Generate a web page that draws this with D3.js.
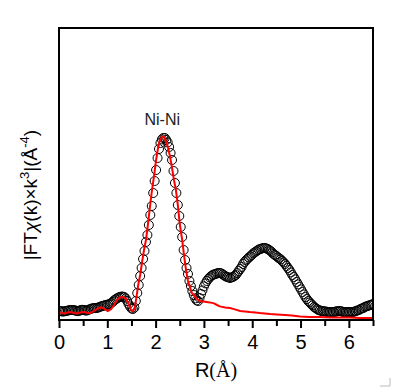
<!DOCTYPE html>
<html>
<head>
<meta charset="utf-8">
<script src="https://cdn.jsdelivr.net/npm/d3@7"></script>
<style>
  body { margin: 0; background: #fff; }
  svg { display: block; font-family: "Liberation Sans", Arial, sans-serif; }
</style>
</head>
<body>
<svg id="chart" width="406" height="391"></svg>
<script>
// measured data, R grid from 0 to 6.51 A in 0.03 A steps
const rStart = 0, rStep = 0.03;
const expValues = [
  0.45, 0.45, 0.43, 0.42, 0.44, 0.45, 0.47, 0.49, 0.5, 0.5,
  0.5, 0.48, 0.46, 0.44, 0.46, 0.5, 0.51, 0.5, 0.48, 0.47,
  0.5, 0.53, 0.56, 0.58, 0.6, 0.6, 0.6, 0.62, 0.65, 0.68,
  0.7, 0.72, 0.75, 0.75, 0.78, 0.8, 0.85, 0.9, 0.98, 1.03,
  1.08, 1.12, 1.15, 1.17, 1.17, 1.15, 1.08, 0.95, 0.8, 0.68,
  0.58, 0.55, 0.62, 0.95, 1.35, 1.75, 2.2, 2.6, 3.05, 3.45,
  3.9, 4.25, 4.75, 5.25, 5.7, 6.35, 6.95, 7.5, 8.1, 8.55,
  8.85, 9.03, 9.1, 9.1, 9.0, 8.88, 8.65, 8.35, 8.0, 7.45,
  6.85, 6.35, 5.75, 5.2, 4.65, 4.15, 3.5, 3.0, 2.6, 2.3,
  1.95, 1.7, 1.45, 1.25, 1.08, 0.98, 0.95, 1.1, 1.3, 1.48,
  1.68, 1.83, 1.95, 2.05, 2.13, 2.2, 2.25, 2.28, 2.3, 2.33,
  2.35, 2.35, 2.33, 2.28, 2.23, 2.18, 2.15, 2.13, 2.1, 2.13,
  2.15, 2.2, 2.25, 2.35, 2.45, 2.55, 2.65, 2.8, 2.9, 2.98,
  3.05, 3.13, 3.18, 3.25, 3.33, 3.38, 3.43, 3.48, 3.53, 3.55,
  3.58, 3.6, 3.6, 3.58, 3.55, 3.5, 3.45, 3.38, 3.3, 3.25,
  3.2, 3.13, 3.08, 3.03, 2.95, 2.88, 2.8, 2.7, 2.6, 2.5,
  2.38, 2.25, 2.15, 2.03, 1.9, 1.78, 1.65, 1.53, 1.4, 1.28,
  1.15, 1.05, 0.95, 0.88, 0.8, 0.73, 0.65, 0.6, 0.55, 0.5,
  0.48, 0.45, 0.45, 0.43, 0.43, 0.4, 0.4, 0.4, 0.4, 0.4,
  0.4, 0.43, 0.43, 0.45, 0.45, 0.43, 0.4, 0.4, 0.4, 0.4,
  0.4, 0.4, 0.4, 0.4, 0.43, 0.45, 0.48, 0.5, 0.55, 0.58,
  0.6, 0.65, 0.68, 0.7, 0.73, 0.75, 0.78, 0.8
];

// fit curve (red)
const fitR = [
  0, 0.06, 0.12, 0.19, 0.25, 0.31, 0.37, 0.44, 0.52, 0.6,
  0.66, 0.72, 0.79, 0.85, 0.91, 0.97, 1.01, 1.08, 1.14, 1.2,
  1.26, 1.32, 1.39, 1.45, 1.49, 1.53, 1.57, 1.61, 1.64, 1.68,
  1.72, 1.76, 1.8, 1.84, 1.88, 1.92, 1.97, 2.01, 2.05, 2.09,
  2.13, 2.15, 2.17, 2.21, 2.26, 2.3, 2.34, 2.38, 2.42, 2.46,
  2.5, 2.55, 2.59, 2.63, 2.67, 2.71, 2.75, 2.79, 2.84, 2.88,
  2.92, 2.98, 3.06, 3.12, 3.21, 3.27, 3.33, 3.44, 3.54, 3.64,
  3.75, 3.85, 3.95, 4.06, 4.16, 4.26, 4.37, 4.51, 4.68, 4.82,
  4.99, 5.19, 5.4, 5.61, 5.81, 6.02, 6.23, 6.5
];
const fitValues = [
  0.4, 0.35, 0.33, 0.38, 0.4, 0.35, 0.33, 0.38, 0.4, 0.35,
  0.35, 0.45, 0.55, 0.63, 0.6, 0.5, 0.45, 0.55, 0.75, 1.0,
  1.13, 1.15, 1.05, 0.75, 0.5, 0.43, 0.6, 1.25, 1.75, 2.25,
  2.9, 3.5, 4.0, 4.75, 5.6, 6.4, 7.25, 8.0, 8.6, 9.0,
  9.15, 9.18, 9.15, 8.95, 8.6, 8.15, 7.6, 7.0, 6.5, 5.75,
  4.8, 4.0, 3.2, 2.5, 1.95, 1.65, 1.35, 1.25, 1.1, 1.0,
  0.95, 0.93, 0.9, 0.88, 0.83, 0.75, 0.68, 0.63, 0.6, 0.53,
  0.45, 0.43, 0.4, 0.38, 0.35, 0.33, 0.3, 0.28, 0.25, 0.23,
  0.18, 0.15, 0.15, 0.13, 0.13, 0.13, 0.1, 0.1
];

const xTicks = [0, 1, 2, 3, 4, 5, 6];
const xMinorTicks = [0.5, 1.5, 2.5, 3.5, 4.5, 5.5, 6.5];
const peakLabel = { text: "Ni-Ni", r: 2.2, v: 9.75 };

var margin = { top: 28, right: 33, bottom: 71, left: 59 },
  width = 406 - margin.left - margin.right,
  height = 391 - margin.top - margin.bottom;

var svg = d3.select("#chart");
var g = svg.append("g")
  .attr("transform", "translate(" + margin.left + "," + margin.top + ")");

var x = d3.scaleLinear().domain([0, 6.5]).range([0, width]);
var y = d3.scaleLinear().domain([0, 14.6]).range([height, 0]);

g.append("clipPath").attr("id", "plotclip")
  .append("rect").attr("width", width).attr("height", height);

var expData = expValues.map((v, i) => ({ r: rStart + i * rStep, v: v }));
var fitData = fitR.map((r, i) => ({ r: r, v: fitValues[i] }));

// experimental points
g.append("g")
  .attr("clip-path", "url(#plotclip)")
  .selectAll("circle")
  .data(expData)
  .enter()
  .append("circle")
  .attr("cx", (d) => x(d.r))
  .attr("cy", (d) => y(d.v))
  .attr("r", 4.5)
  .attr("fill", "none")
  .attr("stroke", "#000")
  .attr("stroke-width", 1);

// fit line
g.append("path")
  .datum(fitData)
  .attr("clip-path", "url(#plotclip)")
  .attr("fill", "none")
  .attr("stroke", "#ff0000")
  .attr("stroke-width", 2)
  .attr("d", d3.line().x((d) => x(d.r)).y((d) => y(d.v)));

// bottom axis, major + minor
var xAxis = g.append("g")
  .attr("transform", "translate(0," + height + ")")
  .call(
    d3.axisBottom(x)
      .tickValues(xTicks)
      .tickFormat(d3.format("d"))
      .tickSize(8)
      .tickSizeOuter(0)
      .tickPadding(7)
  );
xAxis.select(".domain").remove();
xAxis.selectAll("line").attr("stroke-width", 2);
xAxis.selectAll("text")
  .attr("fill", "#000")
  .style("font-size", "20px")
  .style("font-family", "'Liberation Sans', Arial, sans-serif");

var xMinor = g.append("g")
  .attr("transform", "translate(0," + height + ")")
  .call(d3.axisBottom(x).tickValues(xMinorTicks).tickSize(6).tickSizeOuter(0).tickFormat(""));
xMinor.select(".domain").remove();
xMinor.selectAll("line").attr("stroke-width", 2);

// frame
g.append("rect")
  .attr("width", width)
  .attr("height", height)
  .attr("fill", "none")
  .attr("stroke", "#000")
  .attr("stroke-width", 2);

// peak label
g.append("text")
  .attr("x", x(peakLabel.r) - 3)
  .attr("y", y(peakLabel.v))
  .attr("text-anchor", "middle")
  .style("font-size", "16px")
  .attr("fill", "#222")
  .text(peakLabel.text);

// x label
var xl = svg.append("text")
  .attr("x", 216)
  .attr("y", 377)
  .attr("text-anchor", "middle")
  .style("font-size", "20px")
  .attr("fill", "#000");
xl.append("tspan").text("R");
xl.append("tspan").style("font-family", "'Liberation Serif', 'Times New Roman', serif").text("(Å)");

// y label
var yl = svg.append("text")
  .attr("transform", "translate(37,195) rotate(-90)")
  .attr("text-anchor", "middle")
  .style("font-size", "19px")
  .attr("fill", "#000");
yl.append("tspan").text("|FT");
yl.append("tspan").style("font-style", "italic").text("χ");
yl.append("tspan").text("(k)×k");
yl.append("tspan").attr("dy", -8).style("font-size", "13px").text("3");
yl.append("tspan").attr("dy", 8).text("|(Å");
yl.append("tspan").attr("dy", -8).style("font-size", "13px").text("-4");
yl.append("tspan").attr("dy", 8).text(")");

// small corner grip mark
svg.append("path")
  .attr("d", "M380,386H390V378")
  .attr("fill", "none")
  .attr("stroke", "#bbb")
  .attr("stroke-width", 1);
</script>
</body>
</html>
